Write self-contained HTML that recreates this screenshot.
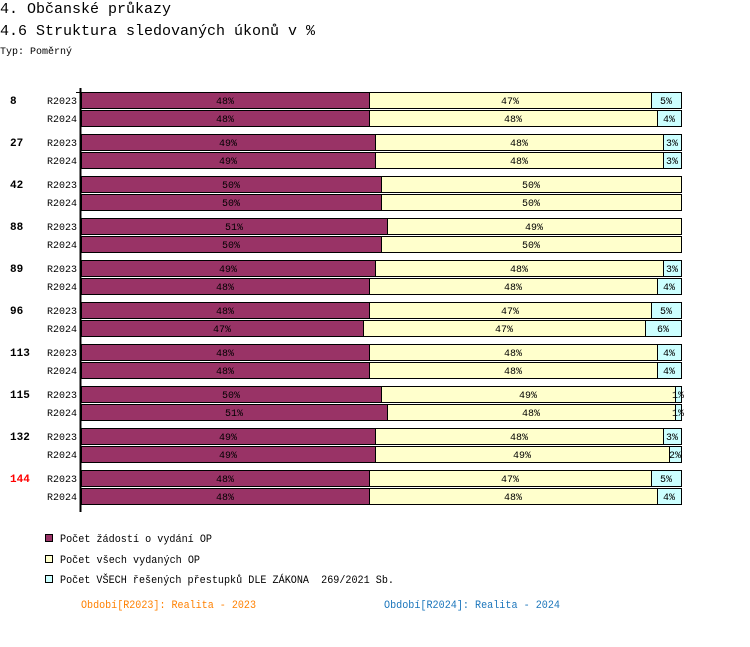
<!DOCTYPE html>
<html><head><meta charset="utf-8"><style>
body{margin:0;background:#fff;}
svg text{font-family:"Liberation Mono",monospace;}
</style></head><body>
<svg width="750" height="642" xmlns="http://www.w3.org/2000/svg">
<text x="0" y="13" font-size="15">4. Občanské průkazy</text>
<text x="0" y="35" font-size="15">4.6 Struktura sledovaných úkonů v %</text>
<text x="0" y="54" font-size="10">Typ: Poměrný</text>
<g id="bars"></g>
<line x1="80.5" y1="88" x2="80.5" y2="512" stroke="#000" stroke-width="2"/>
<line x1="76" y1="92.5" x2="80" y2="92.5" stroke="#000"/>
<g>
<rect x="45.5" y="534.5" width="7" height="7" fill="#993366" stroke="#000"/>
<text x="60" y="542" font-size="11" textLength="152" lengthAdjust="spacingAndGlyphs">Počet žádostí o vydání OP</text>
<rect x="45.5" y="555.5" width="7" height="7" fill="#ffffcc" stroke="#000"/>
<text x="60" y="563" font-size="11" textLength="140" lengthAdjust="spacingAndGlyphs">Počet všech vydaných OP</text>
<rect x="45.5" y="575.5" width="7" height="7" fill="#ccffff" stroke="#000"/>
<text x="60" y="583" font-size="11" textLength="334" lengthAdjust="spacingAndGlyphs" xml:space="preserve">Počet VŠECH řešených přestupků DLE ZÁKONA  269/2021 Sb.</text>
</g>
<text x="81" y="608" font-size="11" fill="#ff8000" textLength="175" lengthAdjust="spacingAndGlyphs">Období[R2023]: Realita - 2023</text>
<text x="384" y="608" font-size="11" fill="#1a75bb" textLength="176" lengthAdjust="spacingAndGlyphs">Období[R2024]: Realita - 2024</text>
</svg>
<script>
const groups=["8","27","42","88","89","96","113","115","132","144"];
const highlighted=["144"];
const periods=["R2023","R2024"];
const s1=[[48,48],[49,49],[50,50],[51,50],[49,48],[48,47],[48,48],[50,51],[49,49],[48,48]];
const s2=[[47,48],[48,48],[50,50],[49,50],[48,48],[47,47],[48,48],[49,48],[48,49],[47,48]];
const s3=[[5,4],[3,3],[0,0],[0,0],[3,4],[5,6],[4,4],[1,1],[3,2],[5,4]];
const NS="http://www.w3.org/2000/svg";
const g=document.getElementById('bars');
const x0=81,W=600;
const xs=v=>x0+v/100*W;
const yRow=(gi,pi)=>92+gi*42+pi*18;
const colors=["#993366","#ffffcc","#ccffff"];
const names=["zadosti","vydanych","prestupku"];
function mk(tag,attrs){const e=document.createElementNS(NS,tag);for(const k in attrs)e.setAttribute(k,attrs[k]);return e;}
groups.forEach((gname,gi)=>{
  const t=mk('text',{x:10,y:yRow(gi,0)+12,'font-size':11,'font-weight':'bold',fill:highlighted.includes(gname)?'#ff0000':'#000'});
  t.textContent=gname;
  
  
  g.appendChild(t);
  periods.forEach((p,pi)=>{
    const y=yRow(gi,pi);
    const lt=mk('text',{x:77,y:y+12,'font-size':10,'text-anchor':'end'});
    lt.textContent=p;
    
    
    g.appendChild(lt);
    const vals=[s1[gi][pi],s2[gi][pi],s3[gi][pi]];
    let acc=0;
    vals.forEach((v,si)=>{
      if(v<=0)return;
      const xa=xs(acc),xb=xs(acc+v);
      const r=mk('rect',{x:xa+0.5,y:y+0.5,width:xb-xa,height:16,fill:colors[si],stroke:'#000'});
      
      
      g.appendChild(r);
      const vt=mk('text',{x:(xa+xb)/2,y:y+12,'font-size':10,'text-anchor':'middle'});
      vt.textContent=v+'%';
      
      
      g.appendChild(vt);
      acc+=v;
    });
  });
});
</script>
</body></html>
